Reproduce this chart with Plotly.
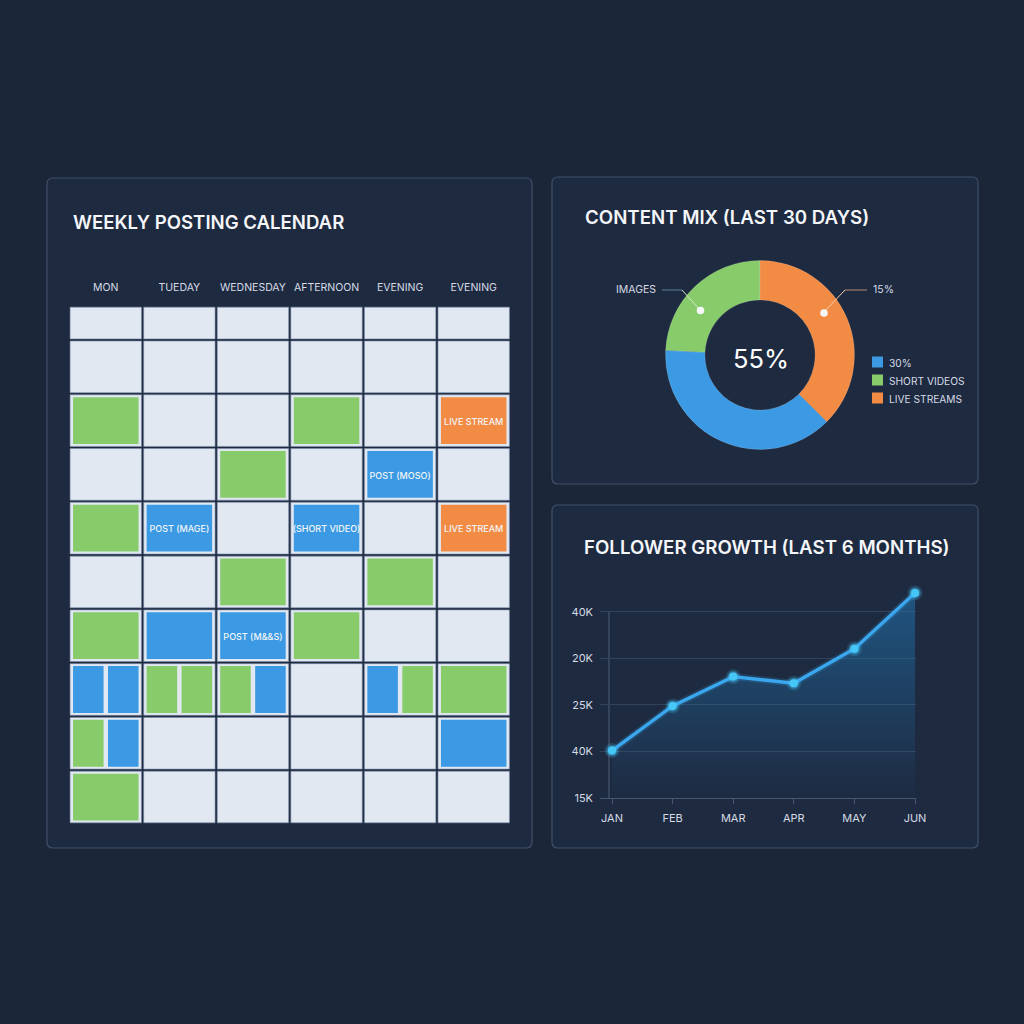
import plotly.graph_objects as go

# calendar
days = ["MON", "TUEDAY", "WEDNESDAY", "AFTERNOON", "EVENING", "EVENING"]
slot_lengths = [0.63, 1, 1, 1, 1, 1, 1, 1, 1, 1]
calendar = [
    ["", "", "", "", "", ""],
    ["", "", "", "", "", ""],
    ["G", "", "", "G", "", "O"],
    ["", "", "G", "", "B", ""],
    ["G", "B", "", "B", "", "O"],
    ["", "", "G", "", "G", ""],
    ["G", "B", "B", "G", "", ""],
    ["BB", "GG", "GB", "", "BG", "G"],
    ["GB", "", "", "", "", "B"],
    ["G", "", "", "", "", ""],
]
cell_labels = {
    (2, 5): "LIVE STREAM",
    (3, 4): "POST (MOSO)",
    (4, 1): "POST (MAGE)",
    (4, 3): "(SHORT VIDEO)",
    (4, 5): "LIVE STREAM",
    (6, 2): "POST (M&&S)",
}

# donut
mix_labels = ["30%", "SHORT VIDEOS", "LIVE STREAMS"]
mix_values = [38.3, 24.2, 37.5]

# line chart
months = ["JAN", "FEB", "MAR", "APR", "MAY", "JUN"]
followers = [25.2, 34.8, 41.1, 39.7, 47.1, 59.1]
y_ticks = [15, 25, 35, 45, 55]
y_tick_text = ["15K", "40K", "25K", "20K", "40K"]

BG = "#1b2639"
PANEL = "#1e2a40"
EDGE = "#3f5069"
GREEN = "#88cb6b"
BLUE = "#3b9ae3"
ORANGE = "#f28b44"
CELL = "#e1e8f2"
TEXT = "#d5dbe5"
FONT = "Inter"
colors = {"G": GREEN, "B": BLUE, "O": ORANGE}


def px(v):
    return v / 1024


def py(v):
    return 1 - v / 1024


def panel(x0, y0, x1, y1, r=6):
    l, r_, t, b = px(x0), px(x1), py(y0), py(y1)
    rx, ry = px(r), r / 1024
    path = (f"M{l + rx},{t} L{r_ - rx},{t} Q{r_},{t} {r_},{t - ry} L{r_},{b + ry} "
            f"Q{r_},{b} {r_ - rx},{b} L{l + rx},{b} Q{l},{b} {l},{b + ry} L{l},{t - ry} Q{l},{t} {l + rx},{t} Z")
    return dict(type="path", path=path, xref="paper", yref="paper", fillcolor=PANEL,
                line=dict(color=EDGE, width=1.2), layer="below")


def pline(x0, y0, x1, y1, color):
    return dict(type="line", xref="paper", yref="paper", x0=px(x0), y0=py(y0), x1=px(x1), y1=py(y1),
                line=dict(color=color, width=1), layer="above")


def dot(x, y, r=4.5):
    return dict(type="circle", xref="paper", yref="paper", x0=px(x - r), x1=px(x + r), y0=py(y + r), y1=py(y - r),
                fillcolor="#f5f7f8", line=dict(width=0), layer="above")


def swatch(x, y, color, s=11):
    return dict(type="rect", xref="paper", yref="paper", x0=px(x), x1=px(x + s), y0=py(y + s / 2), y1=py(y - s / 2),
                fillcolor=color, line=dict(width=0), layer="above")


def label(x, y, text, size, anchor="left", weight=400, color=TEXT):
    return dict(x=px(x), y=py(y), xref="paper", yref="paper", text=text, showarrow=False, xanchor=anchor,
                yanchor="middle", font=dict(family=FONT, size=size, color=color, weight=weight))


fig = go.Figure()

# calendar cells
starts = [sum(slot_lengths[:i]) for i in range(len(slot_lengths))]
cell_x, cell_base, cell_h = [], [], []
fill_x, fill_base, fill_h, fill_w, fill_c = [], [], [], [], []
text_x, text_y, text_s = [], [], []
for r, row in enumerate(calendar):
    for c, code in enumerate(row):
        cell_x.append(c)
        cell_base.append(starts[r] + 0.02)
        cell_h.append(slot_lengths[r] - 0.04)
        if len(code) == 1:
            fill_x.append(c)
            fill_w.append(0.89)
        elif len(code) == 2:
            fill_x += [c - 0.2376, c + 0.2376]
            fill_w += [0.415, 0.415]
        for k in code:
            fill_base.append(starts[r] + 0.065)
            fill_h.append(slot_lengths[r] - 0.13)
            fill_c.append(colors[k])
        if (r, c) in cell_labels:
            text_x.append(c)
            text_y.append(starts[r] + slot_lengths[r] / 2 + 0.035)
            text_s.append(cell_labels[(r, c)])

fig.add_trace(go.Bar(x=cell_x, y=cell_h, base=cell_base, width=0.97, xaxis="x", yaxis="y",
                     marker=dict(color=CELL, line=dict(color="#7f90ab", width=0.6)), showlegend=False))
fig.add_trace(go.Bar(x=fill_x, y=fill_h, base=fill_base, width=fill_w, xaxis="x", yaxis="y",
                     marker=dict(color=fill_c, line=dict(width=0)), showlegend=False))
fig.add_trace(go.Scatter(x=text_x, y=text_y, text=text_s, mode="text", xaxis="x", yaxis="y",
                         textfont=dict(family=FONT, size=9, color="#f2f5f8", weight=500), showlegend=False))

# donut
fig.add_trace(go.Pie(labels=mix_labels, values=mix_values, sort=False, direction="clockwise", rotation=135,
                     hole=0.583, textinfo="none", showlegend=False,
                     domain=dict(x=[px(665.5), px(854.5)], y=[py(449.5), py(260.5)]),
                     marker=dict(colors=[BLUE, GREEN, ORANGE], line=dict(color="rgba(255,255,255,0.25)", width=0.6))))

# line chart
month_pos = list(range(len(months)))
fig.add_trace(go.Scatter(x=month_pos, y=[y_ticks[0]] * len(months), mode="lines", line=dict(width=0),
                         xaxis="x2", yaxis="y2", showlegend=False))
fig.add_trace(go.Scatter(x=month_pos, y=followers, mode="lines", line=dict(color="rgba(58,166,238,0.18)", width=7),
                         fill="tonexty", xaxis="x2", yaxis="y2", showlegend=False,
                         fillgradient=dict(type="vertical", start=60, stop=15,
                                           colorscale=[[0, "rgba(32,112,170,0.62)"], [1, "rgba(32,112,170,0.02)"]])))
fig.add_trace(go.Scatter(x=month_pos, y=followers, mode="markers", xaxis="x2", yaxis="y2", showlegend=False,
                         cliponaxis=False, marker=dict(size=15, color="rgba(70,200,250,0.18)")))
fig.add_trace(go.Scatter(x=month_pos, y=followers, mode="lines", xaxis="x2", yaxis="y2", showlegend=False,
                         cliponaxis=False, line=dict(color="#3ba7ee", width=3.4)))
fig.add_trace(go.Scatter(x=month_pos, y=followers, mode="markers", xaxis="x2", yaxis="y2", showlegend=False,
                         cliponaxis=False, marker=dict(size=11, color="rgba(70,200,250,0.4)")))
fig.add_trace(go.Scatter(x=month_pos, y=followers, mode="markers", xaxis="x2", yaxis="y2", showlegend=False,
                         cliponaxis=False, marker=dict(size=8, color="#45c8f8")))

shapes = [
    panel(47, 178, 532, 848),
    panel(552, 177, 978, 484),
    panel(552, 505, 978, 848),
    # donut callouts
    pline(662, 290, 682, 290, "#5b8296"),
    pline(682, 290, 700, 310, "#d3e6c8"),
    pline(867, 290, 845, 290, "#b98a6b"),
    pline(845, 290, 824, 312, "#f5cfae"),
    dot(700.5, 310.5, 3.8),
    dot(824, 313, 3.8),
    swatch(872, 362, BLUE),
    swatch(872, 380, GREEN),
    swatch(872, 398, ORANGE),
    dict(type="line", xref="x2", yref="paper", x0=-0.05, x1=-0.05, y0=py(612), y1=py(798),
         line=dict(color="#48576f", width=1.2), layer="below"),
]

annotations = [
    label(71, 222, "WEEKLY POSTING CALENDAR", 18.6, weight=600, color="#f4f6f9"),
    label(583, 217, "CONTENT MIX (LAST 30 DAYS)", 18.7, weight=600, color="#f4f6f9"),
    label(582, 547, "FOLLOWER GROWTH (LAST 6 MONTHS)", 18.7, weight=600, color="#f4f6f9"),
    label(761, 358, "55%", 25.5, anchor="center", color="#ffffff"),
    label(614, 289, "IMAGES", 10.5),
    label(871, 289, "15%", 10.5),
    label(887, 362.5, mix_labels[0], 10.2),
    label(887, 380.5, mix_labels[1], 10.2),
    label(887, 398.5, mix_labels[2], 10.2),
]

fig.update_layout(
    width=1024,
    height=1024,
    margin=dict(l=0, r=0, t=0, b=0, autoexpand=False),
    paper_bgcolor=BG,
    plot_bgcolor="rgba(0,0,0,0)",
    barmode="overlay",
    shapes=shapes,
    annotations=annotations,
    xaxis=dict(domain=[px(69), px(510.5)], range=[-0.5, 5.5], side="top", tickvals=list(range(6)), ticktext=days,
               ticks="outside", ticklen=9, tickcolor="rgba(0,0,0,0)", showgrid=False, zeroline=False,
               tickfont=dict(family=FONT, size=10.5, color=TEXT), anchor="y"),
    yaxis=dict(domain=[py(825), py(305)], range=[sum(slot_lengths) + 0.02, -0.02], visible=False, anchor="x"),
    xaxis2=dict(domain=[px(600), px(916)], range=[-0.198, 5.016], type="linear", anchor="y2",
                tickvals=month_pos, ticktext=months, ticks="outside", ticklen=5, tickcolor="#48576f",
                ticklabelstandoff=5, showline=True, linecolor="#48576f", showgrid=False, zeroline=False,
                tickfont=dict(family=FONT, size=11, color=TEXT)),
    yaxis2=dict(domain=[py(798), py(585)], range=[15, 60.8], anchor="x2", tickvals=y_ticks, ticktext=y_tick_text,
                showgrid=True, gridcolor="#344259", gridwidth=1, zeroline=False, showline=False, ticks="",
                ticklabelstandoff=6, tickfont=dict(family=FONT, size=11, color=TEXT)),
)

fig.write_html("out.html", config={"displayModeBar": False},
               post_script="document.body.style.margin='0';document.documentElement.style.overflow='hidden';")
